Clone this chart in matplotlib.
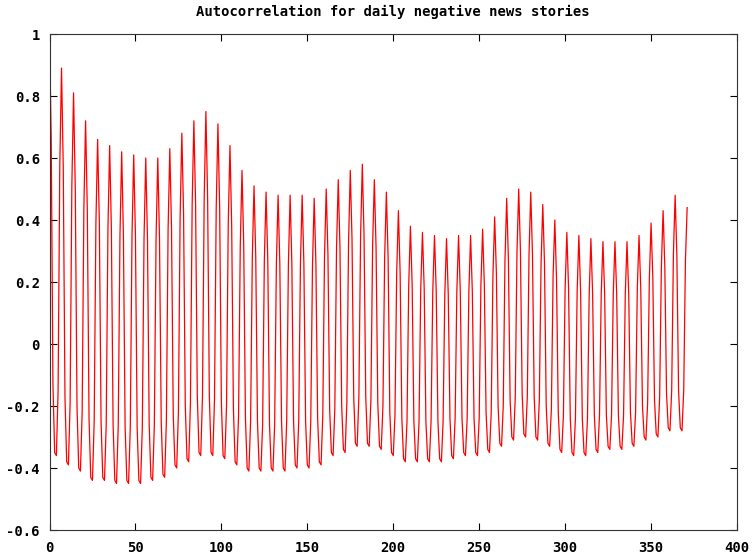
import numpy as np
import matplotlib
matplotlib.use("Agg")
import matplotlib.pyplot as plt

# autocorrelation, one row per week (lags 7k .. 7k+6)
acf = [
    1.00, 0.66, -0.13, -0.35, -0.36, -0.15, 0.58,
    0.89, 0.57, -0.17, -0.38, -0.39, -0.19, 0.51,
    0.81, 0.50, -0.20, -0.40, -0.41, -0.22, 0.44,
    0.72, 0.43, -0.24, -0.43, -0.44, -0.25, 0.39,
    0.66, 0.39, -0.25, -0.43, -0.44, -0.26, 0.37,
    0.64, 0.37, -0.26, -0.44, -0.45, -0.26, 0.35,
    0.62, 0.35, -0.27, -0.44, -0.45, -0.27, 0.35,
    0.61, 0.35, -0.27, -0.44, -0.45, -0.27, 0.34,
    0.60, 0.34, -0.26, -0.43, -0.44, -0.26, 0.34,
    0.60, 0.34, -0.25, -0.42, -0.43, -0.25, 0.37,
    0.63, 0.37, -0.23, -0.39, -0.40, -0.22, 0.41,
    0.68, 0.42, -0.20, -0.37, -0.38, -0.19, 0.45,
    0.72, 0.45, -0.17, -0.35, -0.36, -0.17, 0.47,
    0.75, 0.47, -0.17, -0.35, -0.36, -0.18, 0.44,
    0.71, 0.44, -0.19, -0.36, -0.37, -0.20, 0.39,
    0.64, 0.38, -0.21, -0.38, -0.39, -0.23, 0.32,
    0.56, 0.32, -0.24, -0.40, -0.41, -0.25, 0.28,
    0.51, 0.28, -0.25, -0.40, -0.41, -0.26, 0.27,
    0.49, 0.27, -0.26, -0.40, -0.41, -0.26, 0.26,
    0.48, 0.26, -0.25, -0.40, -0.41, -0.25, 0.26,
    0.48, 0.26, -0.25, -0.39, -0.40, -0.25, 0.26,
    0.48, 0.26, -0.25, -0.39, -0.40, -0.25, 0.25,
    0.47, 0.26, -0.24, -0.38, -0.39, -0.23, 0.28,
    0.50, 0.29, -0.21, -0.35, -0.36, -0.21, 0.31,
    0.53, 0.31, -0.20, -0.34, -0.35, -0.19, 0.33,
    0.56, 0.34, -0.17, -0.32, -0.33, -0.17, 0.35,
    0.58, 0.35, -0.17, -0.32, -0.33, -0.18, 0.32,
    0.53, 0.31, -0.19, -0.33, -0.34, -0.20, 0.28,
    0.49, 0.28, -0.22, -0.35, -0.36, -0.23, 0.23,
    0.43, 0.23, -0.24, -0.37, -0.38, -0.25, 0.19,
    0.38, 0.19, -0.25, -0.37, -0.38, -0.25, 0.18,
    0.36, 0.18, -0.25, -0.37, -0.38, -0.25, 0.17,
    0.35, 0.17, -0.25, -0.37, -0.38, -0.25, 0.16,
    0.34, 0.16, -0.24, -0.36, -0.37, -0.24, 0.17,
    0.35, 0.17, -0.24, -0.35, -0.36, -0.24, 0.17,
    0.35, 0.17, -0.24, -0.35, -0.36, -0.24, 0.19,
    0.37, 0.19, -0.22, -0.34, -0.35, -0.22, 0.22,
    0.41, 0.23, -0.20, -0.32, -0.33, -0.20, 0.27,
    0.47, 0.27, -0.18, -0.30, -0.31, -0.17, 0.30,
    0.50, 0.30, -0.16, -0.29, -0.30, -0.17, 0.29,
    0.49, 0.29, -0.17, -0.30, -0.31, -0.18, 0.26,
    0.45, 0.26, -0.20, -0.32, -0.33, -0.21, 0.22,
    0.40, 0.21, -0.22, -0.34, -0.35, -0.23, 0.18,
    0.36, 0.18, -0.24, -0.35, -0.36, -0.24, 0.17,
    0.35, 0.17, -0.24, -0.35, -0.36, -0.24, 0.16,
    0.34, 0.16, -0.23, -0.34, -0.35, -0.23, 0.16,
    0.33, 0.16, -0.23, -0.33, -0.34, -0.23, 0.16,
    0.33, 0.16, -0.23, -0.33, -0.34, -0.23, 0.16,
    0.33, 0.16, -0.22, -0.32, -0.33, -0.22, 0.18,
    0.35, 0.18, -0.20, -0.30, -0.31, -0.19, 0.21,
    0.39, 0.22, -0.18, -0.29, -0.30, -0.17, 0.25,
    0.43, 0.25, -0.16, -0.27, -0.28, -0.15, 0.29,
    0.48, 0.29, -0.15, -0.27, -0.28, -0.15, 0.27,
    0.44,
]
lags = np.arange(len(acf))

xticks = [0, 50, 100, 150, 200, 250, 300, 350, 400]
yticks = [-0.6, -0.4, -0.2, 0, 0.2, 0.4, 0.6, 0.8, 1]
ylabels = ["-0.6", "-0.4", "-0.2", "0", "0.2", "0.4", "0.6", "0.8", "1"]
title = "Autocorrelation for daily negative news stories"

plt.rcParams["font.family"] = "DejaVu Sans Mono"
plt.rcParams["font.weight"] = "bold"

fig = plt.figure(figsize=(7.53, 5.60), dpi=100)
ax = fig.add_axes([49.5 / 753, 30 / 560, 687.5 / 753, 496 / 560])

ax.plot(lags, acf, color="#ff0000", linewidth=0.9)

ax.set_xlim(0, 400)
ax.set_ylim(-0.6, 1)
ax.set_xticks(xticks)
ax.set_xticklabels([str(t) for t in xticks])
ax.set_yticks(yticks)
ax.set_yticklabels(ylabels)
ax.tick_params(direction="in", length=5, width=0.8, top=True, right=True,
               labelsize=10, colors="black")
ax.tick_params(axis="x", pad=8)
ax.tick_params(axis="y", pad=7)
for s in ax.spines.values():
    s.set_linewidth(0.8)
    s.set_color("#333333")

fig.text((49.5 + 737) / 2 / 753, 1 - 12 / 560, title, ha="center", va="center",
         fontsize=10, fontweight="bold")

fig.savefig("out.png", dpi=100)
